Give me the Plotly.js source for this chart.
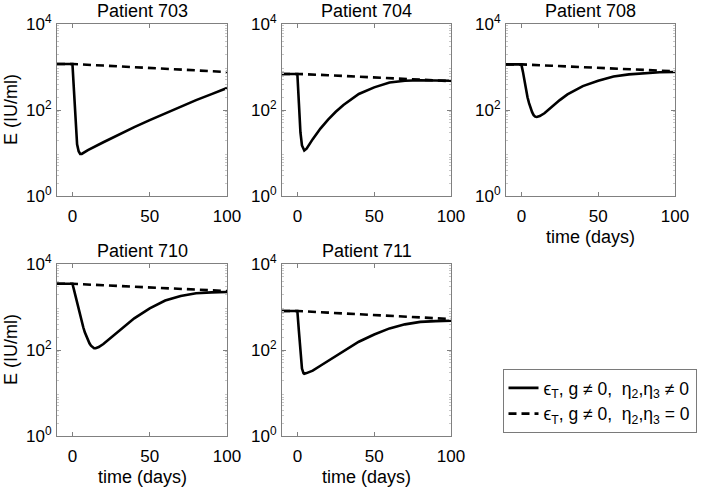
<!DOCTYPE html>
<html>
<head>
<meta charset="utf-8">
<script src="https://cdn.plot.ly/plotly-3.0.1.min.js"></script>
<style>html,body{margin:0;padding:0;background:#fff;}#chart{width:709px;height:488px;}</style>
</head>
<body>
<div id="chart"></div>
<script>
// ---- data (E in IU/ml, time in days) ----
const patients = ["Patient 703", "Patient 704", "Patient 708", "Patient 710", "Patient 711"];

const t703 = [-10, 0, 1, 2, 3, 4, 5, 6, 10, 20, 30, 40, 50, 60, 70, 80, 90, 100];
const full703 = [1175, 1175, 275, 63, 16, 11, 9.5, 9.5, 11.7, 17.8, 27, 40, 58, 83, 120, 170, 234, 324];
const td703 = [-10, 0, 20, 40, 60, 80, 100];
const noeta703 = [1175, 1175, 1080, 1000, 920, 840, 765];

const t704 = [-10, 0, 1, 2, 3, 4, 4.5, 6, 8, 10, 15, 20, 25, 30, 40, 50, 60, 70, 80, 90, 100];
const full704 = [690, 690, 145, 30, 15, 12, 11.4, 12.6, 16.7, 21, 37, 60, 91, 131, 236, 336, 435, 480, 490, 485, 478];
const td704 = [-10, 0, 20, 40, 60, 80, 100];
const noeta704 = [690, 690, 645, 600, 550, 510, 470];

const t708 = [-10, 0, 1, 2, 3, 4, 5, 6, 7, 8, 9, 10, 12, 15, 20, 25, 30, 40, 50, 60, 70, 80, 90, 100];
const full708 = [1150, 1150, 780, 457, 295, 197, 144, 110, 89, 76, 70, 69, 72, 84, 120, 170, 230, 360, 480, 600, 675, 725, 755, 765];
const td708 = [-10, 0, 20, 40, 60, 80, 100];
const noeta708 = [1150, 1150, 1070, 990, 920, 855, 795];

const t710 = [-10, 0, 1, 2, 3, 4, 5, 6, 7, 8, 9, 10, 11, 12, 13, 14, 15, 17, 20, 25, 30, 40, 50, 60, 70, 80, 90, 100];
const full710 = [3470, 3470, 2500, 1740, 1230, 850, 620, 457, 338, 257, 204, 170, 143, 126, 115, 110, 110, 117, 138, 195, 275, 545, 930, 1410, 1810, 2090, 2190, 2240];
const td710 = [-10, 0, 20, 40, 60, 80, 100];
const noeta710 = [3470, 3470, 3200, 2950, 2750, 2550, 2350];

const t711 = [-10, 0, 1, 2, 3, 4, 4.5, 6, 10, 15, 20, 30, 40, 50, 60, 70, 80, 90, 100];
const full711 = [810, 810, 275, 93, 37, 29, 28, 29, 33, 43, 56, 95, 156, 230, 318, 395, 450, 470, 480];
const td711 = [-10, 0, 20, 40, 60, 80, 100];
const noeta711 = [810, 810, 740, 680, 625, 570, 525];

const xTicks = [0, 50, 100];
const yTicks = [1, 100, 10000];
const yTickText = ["10<sup>0</sup>", "10<sup>2</sup>", "10<sup>4</sup>"];
const legendNames = ["ϵ<sub>T</sub>, g ≠ 0,\u00a0\u00a0η<sub>2</sub>,η<sub>3</sub> ≠ 0",
                     "ϵ<sub>T</sub>, g ≠ 0,\u00a0\u00a0η<sub>2</sub>,η<sub>3</sub> = 0"];

const series = [
  [t703, full703, td703, noeta703],
  [t704, full704, td704, noeta704],
  [t708, full708, td708, noeta708],
  [t710, full710, td710, noeta710],
  [t711, full711, td711, noeta711]
];

// ---- layout geometry (pixels) ----
const W = 709, H = 488;
const cols = [[57, 227], [282, 451], [506, 675]];
const rows = [[24, 196], [264, 436]];
const cells = [[0, 0], [0, 1], [0, 2], [1, 0], [1, 1]];
const FONT = "Liberation Sans, Arial, Helvetica, sans-serif";

const traces = [];
const layout = {
  width: W, height: H,
  margin: {l: 0, r: 0, t: 0, b: 0},
  paper_bgcolor: "#fff", plot_bgcolor: "#fff",
  font: {family: FONT, color: "#000", size: 17},
  showlegend: true,
  legend: {
    x: 502.5 / W, y: 1 - 369 / H, xanchor: "left", yanchor: "top",
    bordercolor: "#7a7a7a", borderwidth: 1, bgcolor: "#fff",
    font: {family: FONT, size: 17.5, color: "#000"},
    tracegroupgap: 0
  },
  annotations: []
};

cells.forEach((rc, i) => {
  const n = i + 1;
  const xs = n === 1 ? "" : String(n);
  const [r, c] = rc;
  const [x0, x1] = cols[c];
  const [y0, y1] = rows[r];
  const [ts, fs, tds, ds] = series[i];
  traces.push({
    x: ts, y: fs, xaxis: "x" + xs, yaxis: "y" + xs, type: "scatter", mode: "lines",
    line: {color: "#000", width: 2.6}, name: legendNames[0], showlegend: i === 0, legendgroup: "a"
  });
  traces.push({
    x: tds, y: ds, xaxis: "x" + xs, yaxis: "y" + xs, type: "scatter", mode: "lines",
    line: {color: "#000", width: 2.6, dash: "8px,5px"}, name: legendNames[1], showlegend: i === 0, legendgroup: "b"
  });
  layout["xaxis" + xs] = {
    domain: [x0 / W, x1 / W], anchor: "y" + xs, range: [-10, 100],
    tickmode: "array", tickvals: xTicks, ticks: "inside", ticklen: 4, tickcolor: "#808080",
    showline: true, linecolor: "#808080", linewidth: 1, mirror: "ticks",
    showgrid: false, zeroline: false, ticklabelstandoff: 5,
    tickfont: {family: FONT, size: 17, color: "#000"}
  };
  layout["yaxis" + xs] = {
    domain: [1 - y1 / H, 1 - y0 / H], anchor: "x" + xs, type: "log", range: [0, 4],
    tickmode: "array", tickvals: yTicks, ticktext: yTickText, ticks: "inside", ticklen: 4, tickcolor: "#808080",
    showline: true, linecolor: "#808080", linewidth: 1, mirror: "ticks",
    showgrid: false, zeroline: false, ticklabelstandoff: 1,
    tickfont: {family: FONT, size: 17, color: "#000"},
    minor: {tickvals: [2,3,4,5,6,7,8,9,20,30,40,50,60,70,80,90,200,300,400,500,600,700,800,900,2000,3000,4000,5000,6000,7000,8000,9000],
            ticks: "inside", ticklen: 2, tickcolor: "#c8c8c8", showgrid: false}
  };
  layout.annotations.push({
    text: patients[i], xref: "paper", yref: "paper", x: (x0 + x1) / 2 / W, y: 1 - (y0 - 13) / H,
    xanchor: "center", yanchor: "middle", showarrow: false, font: {family: FONT, size: 18, color: "#000"}
  });
  if (c === 0) {
    layout.annotations.push({
      text: "E (IU/ml)", xref: "paper", yref: "paper", x: 11 / W, y: 1 - (y0 + y1) / 2 / H,
      xanchor: "center", yanchor: "middle", textangle: -90, showarrow: false,
      font: {family: FONT, size: 18, color: "#000"}
    });
  }
  if (r === 1 || c === 2) {
    layout.annotations.push({
      text: "time (days)", xref: "paper", yref: "paper", x: (x0 + x1) / 2 / W, y: 1 - (y1 + 41) / H,
      xanchor: "center", yanchor: "middle", showarrow: false,
      font: {family: FONT, size: 18, color: "#000"}
    });
  }
});

Plotly.newPlot("chart", traces, layout, {displayModeBar: false, staticPlot: true});
</script>
</body>
</html>
